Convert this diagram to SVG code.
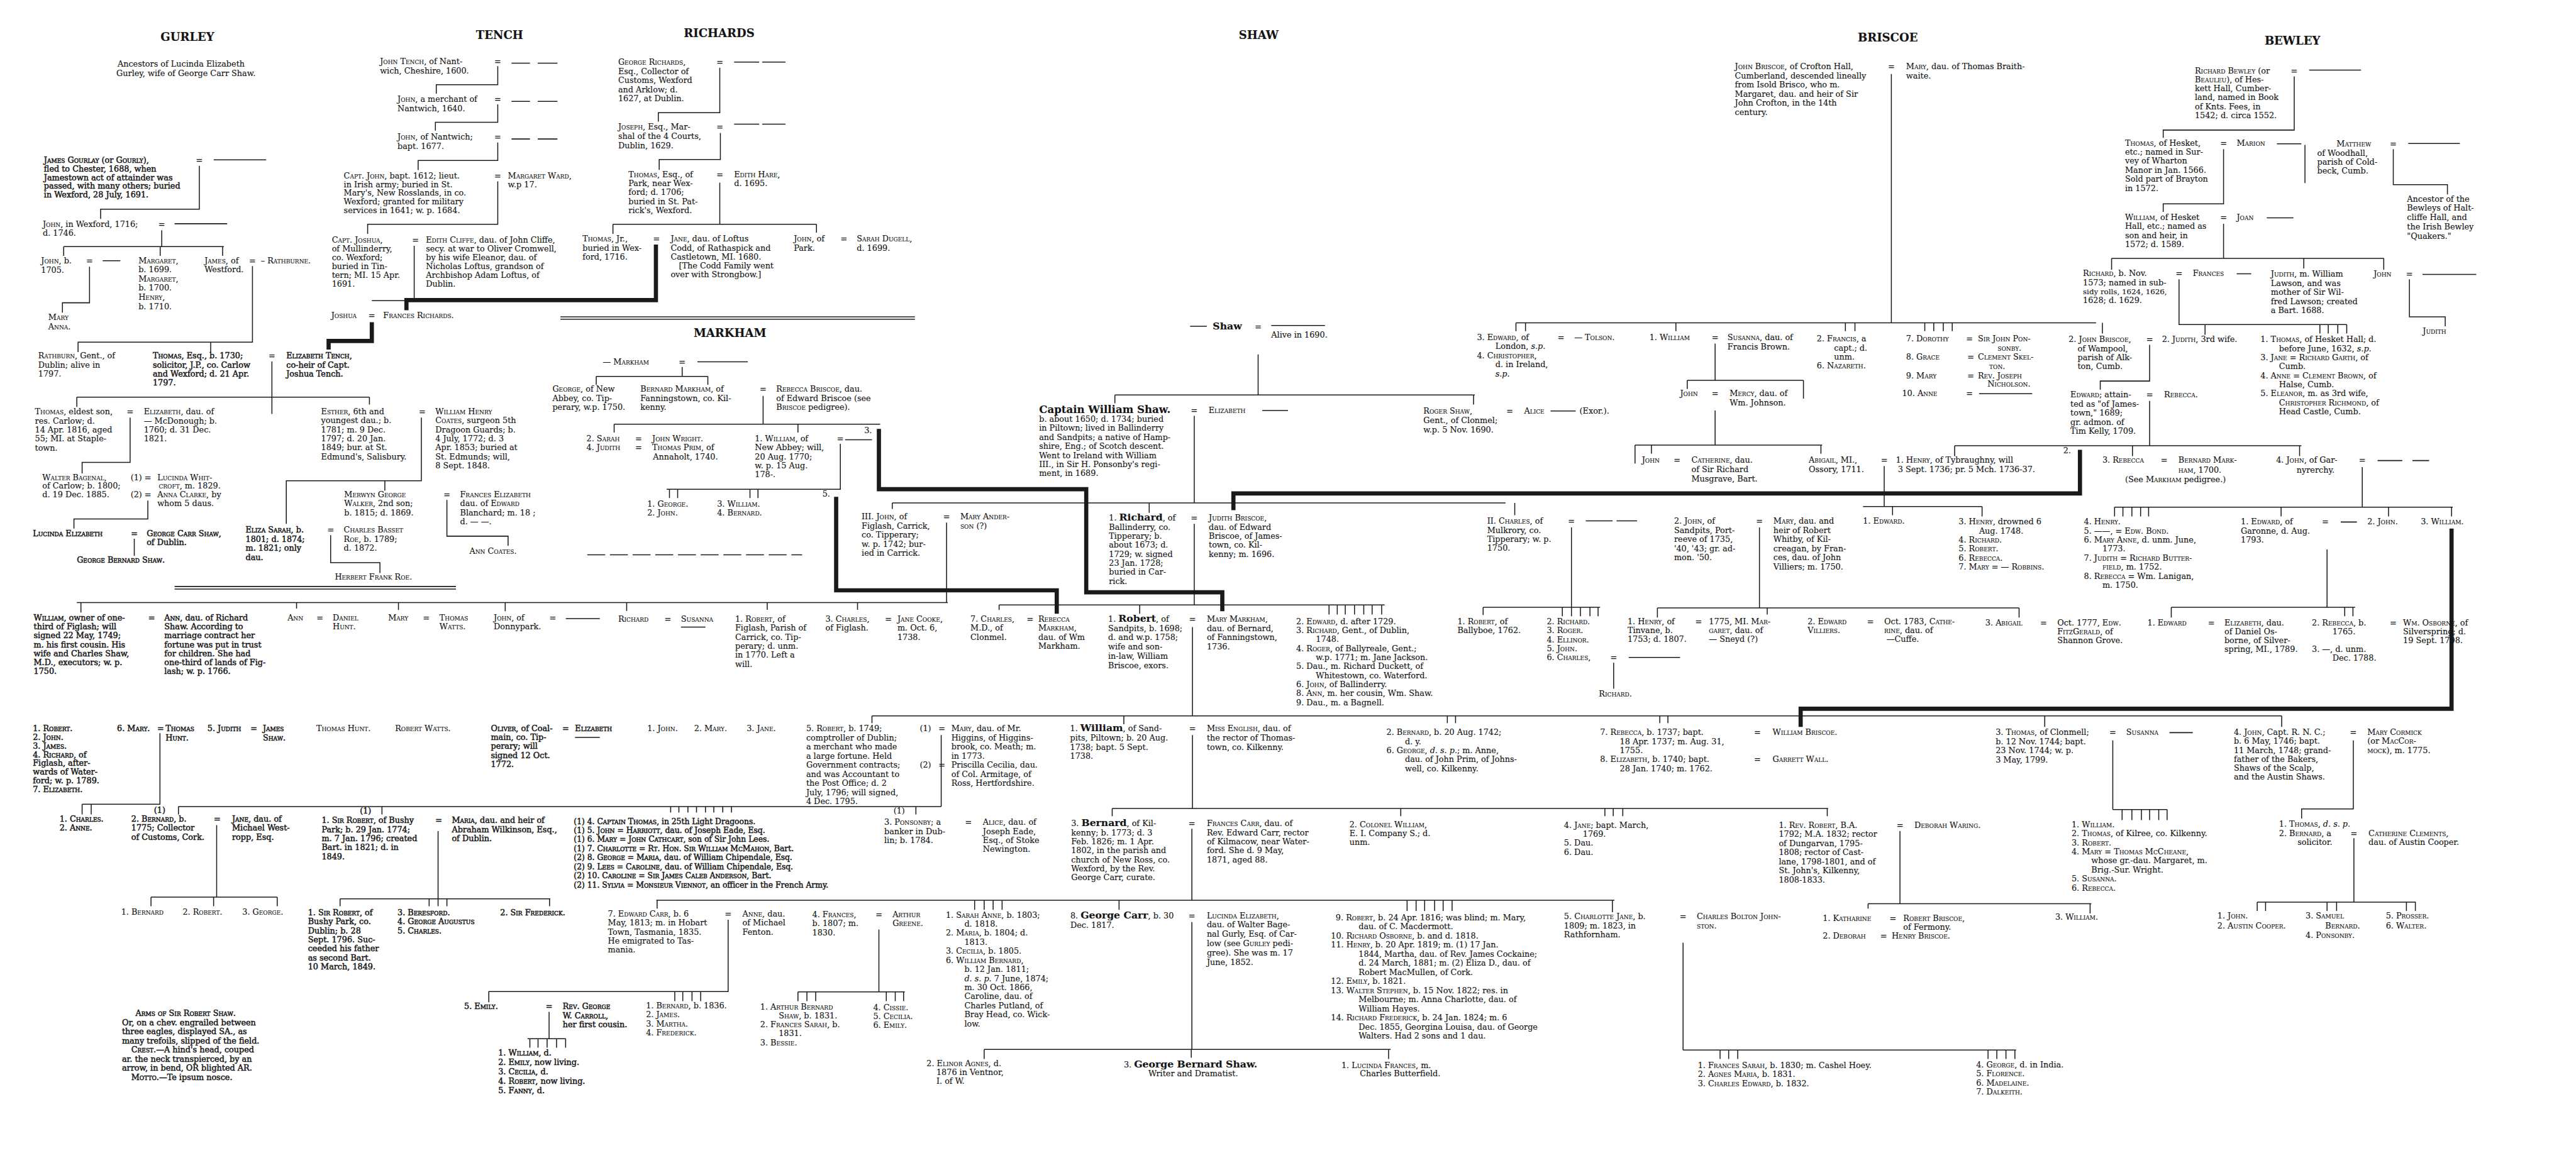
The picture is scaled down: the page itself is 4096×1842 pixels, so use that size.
<svg xmlns="http://www.w3.org/2000/svg" width="4096" height="1842" viewBox="0 0 4096 1842">
<style>
text{font-family:"DejaVu Serif","Liberation Serif",serif;font-size:13.5px;fill:#141414;stroke:#141414;stroke-width:.15}
.s{font-variant:small-caps}
.i{font-style:italic}
.b{stroke-width:.5}
.h{font-size:19px;font-weight:bold;text-anchor:middle}
.bd{font-size:16.5px;font-weight:bold}
.e{text-anchor:middle}
.c path{fill:none;stroke:#1a1a1a;stroke-width:1.6}
.c path.k{stroke-width:7}
</style>
<rect width="4096" height="1842" fill="#fff"/>
<g transform="scale(0.949)">
<g id="connectors" class="c">
<path d="M358 268H446M292.5 375H380.6M172 437H201.6M857 106H888M901 106H934M857 170H888M901 170H934M857 233H888M901 233H934M1230 104H1272M1277 104H1316M1230 208H1272M1277 208H1316M1168.5 606.5H1253M1416 737H1461M1994 547H2022M2130 545.5H2220M2115 688H2158M2598 689H2640M2657 873H2702M2708.6 873H2743M2729 1102H2815M948 1037H1005M1141 1051H1182M963.5 1236H1005M3316 660H3405M3869 117.6H3956M3815 241H3856M4035 240.5H4121.5M3798 365H3842.6M3747.6 459H3772M4059 460H4149M3983.7 772H4025M4042 772H4070M3922 875H3949M3635 1228H3674"/>
<path d="M334 278V350.7H168.6V367"/>
<path d="M271 386V413.4M106.7 413.4H375M106.7 413.4V429M268.4 413.4V429M373 413.4V429"/>
<path d="M150 447V507.5H104.6V524"/>
<path d="M423 446V573.5H130.8V590M353 573.5V590"/>
<path d="M455.6 606V694M128.7 665.6H619M128.7 665.6V682M619 665.6V678"/>
<path d="M218 700V775H137.6V793.5"/>
<path d="M247.7 839V869.8H123.9V886"/>
<path d="M225 903V931.7"/>
<path d="M706 700V805.9H479.7V878M644.8 805.9V822.4"/>
<path d="M748.8 838V898.7H851.3V915"/>
<path d="M554 897V943H636.6V960.6"/>
<path d="M292.5 983H764M292.5 987.4H764"/>
<path d="M834 111V142H731V157"/>
<path d="M834 175V205H729.5V219"/>
<path d="M834 239V269H700.6V285"/>
<path d="M834 304V376H616V392"/>
<path d="M694 412V504H623"/>
<path class="k" d="M1099 410V503H681V520"/>
<path class="k" d="M623 540V571.5H550.6V586"/>
<path d="M1206 113.5V189H1103V204"/>
<path d="M1207 222.8V267.4H1104.5V284.7"/>
<path d="M1206 306V376M1027 376H1368M1027 376V392M1368 376V390"/>
<path d="M939 531H1533M939 535H1533"/>
<path d="M1143 615V631M999 631H1186M999 631V645M1186 631V645"/>
<path d="M1278.6 663.5V711M1029 711H1474.7M1029 711V725M1337 711V725"/>
<path class="k" d="M1472.6 719V820H1820V992.8H2048V1024.5"/>
<path d="M1408 744V820H1117M1121.7 820V834.7M1135.4 820V834.7M1256.6 820V834.7M1270 820V834.7"/>
<path class="k" d="M1401 832.7V989.5H1770.6V1028.6"/>
<path d="M984 930H1344" stroke-dasharray="30 8"/>
<path d="M2108 594V662M1868 662H2471M1868 662V676M2469 662V678"/>
<path d="M2001 697V843M1495 843H2522.7M1495 843V853M1925.5 843V859.5M2538 843V863.6"/>
<path d="M1586 876V1010M128.7 1010H1588M135.6 1010V1026.6M496.9 1010V1020M667.6 1010V1022.5M846.5 1010V1024.5M1050 1010V1024M1285.5 1010V1022M1436.8 1010V1022"/>
<path d="M2001 878V1014M1674 1014H2320M1674 1014V1022.5M1909.6 1014V1028.6M2226.8 1014V1030M2240.6 1014V1030M2254 1014V1030M2269.5 1014V1030M2285 1014V1030M2299 1014V1030M2315 1014V1030"/>
<path d="M2633 884V1018M2485 1018H2681M2485 1018V1030.7M2617.7 1018V1032.8M2633 1018V1032.8M2648 1018V1032.8M2664 1018V1032.8M2677.6 1018V1032.8"/>
<path d="M2703.7 1111V1154.5"/>
<path d="M2873.7 576V637.5M2827 637.5H3021.7M2827 637.5V652M3021.7 637.5V668"/>
<path d="M2873.7 688V746M2739.5 746H3053M2739.5 746V777M2767 746V760.5M3051 746V760.5"/>
<path d="M3157 781V849M3121.5 849H3321M3171 849V863.6M3321 849V865.7"/>
<path d="M2948 884V1019M2777 1019H3383M2777 1019V1035M2961 1019V1030M3383 1019V1035"/>
<path d="M3601.7 672V747M3275 747H3856M3275 747V764.6M3573 747V764.6M3853 747V764.6"/>
<path class="k" d="M3485 754V827H2066.6V855"/>
<path d="M3958 783V850M3543 850H4109.6M3543 850V865.7M3557 850V865.7M3572 850V865.7M3586.6 850V865.7M3600 850V865.7M3822 850V865.7M4002 850V865.7M4107.6 850V865.7"/>
<path d="M3899 921V1018M3638 1018H3946M3638 1018V1035M3928.6 1018V1033M3942.4 1018V1033"/>
<path class="k" d="M4107.6 886V1188H3017V1218.5"/>
<path d="M1998 1051V1200M1461 1200H3823M1461 1200V1212M1883 1200V1214M2425 1200V1212M2438.8 1200V1212M2781 1200V1212M2794.6 1200V1212M3426 1200V1218.5M3823 1200V1218.5"/>
<path d="M1577 1232V1352M299 1352H1577M299 1352V1365M640 1352V1365M1123.7 1352V1362M1137.5 1352V1362M1152.6 1352V1362M1167 1352V1362M1182 1352V1362M1196 1352V1362M1211 1352V1362M1225.6 1352V1362M1534.6 1352V1365"/>
<path d="M268 1229V1348H137.6M137.6 1348V1365M152.8 1348V1365"/>
<path d="M363 1383V1503.6M253 1503.6H464.5M253 1503.6V1519M357.9 1503.6V1519M464.5 1503.6V1519"/>
<path d="M734 1393V1506.5M569.8 1506.5H922M569.8 1506.5V1519M719 1506.5V1519M734 1506.5V1519M748.8 1506.5V1519M920.8 1506.5V1519"/>
<path d="M1998 1232V1355M1863.5 1355H3063M1863.5 1355V1368M2347 1355V1368M2689 1355V1368M2703 1355V1368M2719 1355V1368M3061.6 1355V1368"/>
<path d="M1997 1389V1509M1099.6 1509H2705M1101 1509V1523M1633 1509V1525M1649 1509V1525M1664 1509V1525M1679 1509V1525M1875 1509V1525M2357.6 1509V1527M2372.7 1509V1527M2387 1509V1527M2403.7 1509V1527M2418 1509V1527M2433 1509V1527M2701.6 1509V1529"/>
<path d="M1220 1541.6V1662H819V1680M1130.6 1662V1678M1144 1662V1678M1159.5 1662V1678M1174 1662V1678"/>
<path d="M1472.6 1558V1662.5M1337 1662.5H1516M1337 1662.5V1678M1352 1662.5V1678M1366.7 1662.5V1678M1485 1662.5V1678M1500 1662.5V1678M1514 1662.5V1678"/>
<path d="M920 1696V1741M884 1741H948M887.8 1741V1756M901.5 1741V1756M916.7 1741V1756M932.5 1741V1756M947.7 1741V1756"/>
<path d="M1997 1545.7V1759M1649 1759H2330M1649 1759V1775M1996 1759V1773M2326.6 1759V1775"/>
<path d="M2820 1580V1760M2820 1760H3378M2882 1760V1775M2896.4 1760V1775M2911.6 1760V1775M3331 1760V1775M3345.7 1760V1775M3361 1760V1775M3376 1760V1775"/>
<path d="M3183.4 1393V1514.7M3130 1514.7H3504M3130 1514.7V1523M3502 1514.7V1531"/>
<path d="M3540 1241V1357M3540 1357H3631M3555.6 1357V1374.5M3572 1357V1374.5M3588 1357V1374.5M3601.7 1357V1374.5M3617 1357V1374.5M3631 1357V1374.5"/>
<path d="M3943 1241V1356H3856.4V1372"/>
<path d="M3944 1405V1512M3782 1512H4047.7M3782 1512V1527M3796 1512V1527M3899 1512V1527M3915 1512V1527M4032 1512V1527M4047 1512V1527"/>
<path d="M3169 124V541M2540 541H3512M2540 541V555M2556 541V555M2808 541V555M3092 541V555M3108 541V555M3225 541V555M3240 541V555M3256 541V555M3271 541V555M3522.6 541V559"/>
<path d="M3601.7 578V638.7H3519V653"/>
<path d="M3844 128V218H3624.5V231"/>
<path d="M3725.6 250V341.6H3624.5V355"/>
<path d="M3862 243V307"/>
<path d="M4010 250V309.5H4100.7V326"/>
<path d="M3725.6 375V433M3538 433H3994M3538 433V452M3860 433V450M3994 433V452"/>
<path d="M3651 468V544H3932M3694.6 544V561M3887 544V559M3901 544V559M3917 544V559M3932 544V559"/>
<path d="M4037 468V531H4097V547"/>
</g>

<g id="headings">
<text class="h" x="314" y="69">GURLEY</text>
<text class="h" x="837" y="65">TENCH</text>
<text class="h" x="1205" y="62">RICHARDS</text>
<text class="h" x="2109" y="65">SHAW</text>
<text class="h" x="3163" y="70">BRISCOE</text>
<text class="h" x="3841" y="75">BEWLEY</text>
<text class="h" x="1223" y="565">MARKHAM</text>
</g>

<g id="gurley-note"><text x="197" y="112">Ancestors of Lucinda Elizabeth<tspan x="195" dy="16">Gurley, wife of George Carr Shaw.</tspan></text></g>
<g id="james-gourlay"><text class="b" x="73.6" y="273"><tspan class="s">James Gourlay</tspan> (or <tspan class="s">Gourly</tspan>),<tspan x="73.6" dy="14.5">fled to Chester, 1688, when</tspan><tspan x="73.6" dy="14.5">Jamestown act of attainder was</tspan><tspan x="73.6" dy="14.5">passed, with many others; buried</tspan><tspan x="73.6" dy="14.5">in Wexford, 28 July, 1691.</tspan></text><text class="e" x="334" y="273">=</text></g>
<g id="john-wexford"><text x="71.6" y="380.5"><tspan class="s">John</tspan>, in Wexford, 1716;<tspan x="71.6" dy="14.5">d. 1746.</tspan></text><text class="e" x="271" y="380.5">=</text></g>
<g id="john-1705"><text x="68.8" y="442"><tspan class="s">John</tspan>, b.<tspan x="68.8" dy="15.5">1705.</tspan></text><text class="e" x="150" y="442">=</text></g>
<g id="mary-anna"><text class="s" x="81" y="536">Mary<tspan x="81" dy="16">Anna.</tspan></text></g>
<g id="margaret"><text x="232" y="441"><tspan class="s">Margaret</tspan>,<tspan x="232" dy="15.4">b. 1699.</tspan><tspan x="232" dy="15.4" class="s">Margaret,</tspan><tspan x="232" dy="15.4">b. 1700.</tspan><tspan x="232" dy="15.4" class="s">Henry,</tspan><tspan x="232" dy="15.4">b. 1710.</tspan></text></g>
<g id="james-westford"><text x="342.7" y="441"><tspan class="s">James</tspan>, of<tspan x="342.7" dy="15.5">Westford.</tspan></text><text class="e" x="423" y="441">=</text><text x="437" y="441">– <tspan class="s">Rathburne.</tspan></text></g>
<g id="rathburn"><text x="64" y="601"><tspan class="s">Rathburn</tspan>, Gent., of<tspan x="64" dy="15">Dublin; alive in</tspan><tspan x="64" dy="15">1797.</tspan></text></g>
<g id="thomas-1730"><text class="b" x="256" y="601"><tspan class="s">Thomas</tspan>, Esq., b. 1730;<tspan x="256" dy="15">solicitor, J.P., co. Carlow</tspan><tspan x="256" dy="15">and Wexford; d. 21 Apr.</tspan><tspan x="256" dy="15">1797.</tspan></text><text class="e" x="455.6" y="601">=</text></g>
<g id="elizabeth-tench"><text class="b" x="479.7" y="601"><tspan class="s">Elizabeth Tench</tspan>,<tspan x="479.7" dy="15">co-heir of Capt.</tspan><tspan x="479.7" dy="15">Joshua Tench.</tspan></text></g>

<g id="john-tench"><text x="636.6" y="108"><tspan class="s">John Tench</tspan>, of Nant-<tspan x="636.6" dy="15.5">wich, Cheshire, 1600.</tspan></text><text class="e" x="834" y="108">=</text></g>
<g id="john-merchant"><text x="666" y="171"><tspan class="s">John</tspan>, a merchant of<tspan x="666" dy="15.5">Nantwich, 1640.</tspan></text><text class="e" x="834" y="171">=</text></g>
<g id="john-nantwich"><text x="666" y="234"><tspan class="s">John</tspan>, of Nantwich;<tspan x="666" dy="15.5">bapt. 1677.</tspan></text><text class="e" x="834" y="234">=</text></g>
<g id="capt-john"><text x="576" y="299"><tspan class="s">Capt. John</tspan>, bapt. 1612; lieut.<tspan x="576" dy="14.6">in Irish army; buried in St.</tspan><tspan x="576" dy="14.6">Mary's, New Rosslands, in co.</tspan><tspan x="576" dy="14.6">Wexford; granted for military</tspan><tspan x="576" dy="14.6">services in 1641; w. p. 1684.</tspan></text><text class="e" x="834" y="299">=</text><text x="851" y="299"><tspan class="s">Margaret Ward</tspan>,<tspan x="851" dy="14.6">w.p 17.</tspan></text></g>
<g id="capt-joshua"><text x="556" y="407"><tspan class="s">Capt. Joshua</tspan>,<tspan x="556" dy="14.8">of Mullinderry,</tspan><tspan x="556" dy="14.8">co. Wexford;</tspan><tspan x="556" dy="14.8">buried in Tin-</tspan><tspan x="556" dy="14.8">tern; MI. 15 Apr.</tspan><tspan x="556" dy="14.8">1691.</tspan></text><text class="e" x="696" y="407">=</text></g>
<g id="edith-cliffe"><text x="713.6" y="407"><tspan class="s">Edith Cliffe</tspan>, dau. of John Cliffe,<tspan x="713.6" dy="14.8">secy. at war to Oliver Cromwell,</tspan><tspan x="713.6" dy="14.8">by his wife Eleanor, dau. of</tspan><tspan x="713.6" dy="14.8">Nicholas Loftus, grandson of</tspan><tspan x="713.6" dy="14.8">Archbishop Adam Loftus, of</tspan><tspan x="713.6" dy="14.8">Dublin.</tspan></text></g>
<g id="joshua"><text class="s" x="555" y="533">Joshua</text><text class="e" x="623" y="533">=</text><text class="s" x="642" y="533">Frances Richards.</text></g>

<g id="george-richards"><text x="1035.7" y="109"><tspan class="s">George Richards</tspan>,<tspan x="1035.7" dy="15.2">Esq., Collector of</tspan><tspan x="1035.7" dy="15.2">Customs, Wexford</tspan><tspan x="1035.7" dy="15.2">and Arklow; d.</tspan><tspan x="1035.7" dy="15.2">1627, at Dublin.</tspan></text><text class="e" x="1206" y="109">=</text></g>
<g id="joseph"><text x="1035.7" y="217.5"><tspan class="s">Joseph</tspan>, Esq., Mar-<tspan x="1035.7" dy="15.4">shal of the 4 Courts,</tspan><tspan x="1035.7" dy="15.4">Dublin, 1629.</tspan></text><text class="e" x="1206" y="217.5">=</text></g>
<g id="thomas-park"><text x="1053" y="297"><tspan class="s">Thomas</tspan>, Esq., of<tspan x="1053" dy="15">Park, near Wex-</tspan><tspan x="1053" dy="15">ford; d. 1706;</tspan><tspan x="1053" dy="15">buried in St. Pat-</tspan><tspan x="1053" dy="15">rick's, Wexford.</tspan></text><text class="e" x="1206" y="297">=</text><text x="1230" y="297"><tspan class="s">Edith Hare</tspan>,<tspan x="1230" dy="15">d. 1695.</tspan></text></g>
<g id="thomas-jr"><text x="976" y="405"><tspan class="s">Thomas</tspan>, Jr.,<tspan x="976" dy="15">buried in Wex-</tspan><tspan x="976" dy="15">ford, 1716.</tspan></text><text class="e" x="1100" y="405">=</text></g>
<g id="jane-codd"><text x="1123.7" y="405"><tspan class="s">Jane</tspan>, dau. of Loftus<tspan x="1123.7" dy="15">Codd, of Rathaspick and</tspan><tspan x="1123.7" dy="15">Castletown, MI. 1680.</tspan><tspan x="1137.5" dy="15">[The Codd Family went</tspan><tspan x="1123.7" dy="15">over with Strongbow.]</tspan></text></g>
<g id="john-park"><text x="1330" y="405"><tspan class="s">John</tspan>, of<tspan x="1330" dy="15">Park.</tspan></text><text class="e" x="1414" y="405">=</text><text x="1435.5" y="405"><tspan class="s">Sarah Dugell</tspan>,<tspan x="1435.5" dy="15">d. 1699.</tspan></text></g>

<g id="markham"><text x="1010" y="611">— <tspan class="s">Markham</tspan></text><text class="e" x="1143" y="611">=</text></g>
<g id="george-new-abbey"><text x="925.6" y="657"><tspan class="s">George</tspan>, of New<tspan x="925.6" dy="15">Abbey, co. Tip-</tspan><tspan x="925.6" dy="15">perary, w.p. 1750.</tspan></text></g>
<g id="bernard-markham"><text x="1073" y="657"><tspan class="s">Bernard Markham</tspan>, of<tspan x="1073" dy="15">Fanningstown, co. Kil-</tspan><tspan x="1073" dy="15">kenny.</tspan></text><text class="e" x="1278.6" y="657">=</text><text x="1300.6" y="657"><tspan class="s">Rebecca Briscoe</tspan>, dau.<tspan x="1300.6" dy="15">of Edward Briscoe (see</tspan><tspan x="1300.6" dy="15"><tspan class="s">Briscoe</tspan> pedigree).</tspan></text></g>
<g id="sarah-judith"><text x="982.7" y="740">2. <tspan class="s">Sarah</tspan><tspan x="982.7" dy="15">4. </tspan><tspan class="s">Judith</tspan></text><text class="e" x="1070" y="740">=<tspan x="1070" dy="15">=</tspan></text><text x="1092.8" y="740"><tspan class="s">John Wright.</tspan><tspan x="1092.8" dy="15" class="s">Thomas Prim</tspan>, of<tspan x="1094" dy="15">Annaholt, 1740.</tspan></text></g>
<g id="william-new-abbey"><text x="1264.8" y="740">1. <tspan class="s">William</tspan>, of<tspan x="1264.8" dy="15">New Abbey; will,</tspan><tspan x="1264.8" dy="15">20 Aug. 1770;</tspan><tspan x="1264.8" dy="15">w. p. 15 Aug.</tspan><tspan x="1264.8" dy="15">178-.</tspan></text><text class="e" x="1408" y="740">=</text><text x="1448" y="726">3.</text><text x="1378" y="832">5.</text></g>
<g id="markham-sons"><text x="1084.5" y="849">1. <tspan class="s">George.</tspan><tspan x="1084.5" dy="15.5">2. </tspan><tspan class="s">John.</tspan></text><text x="1201.5" y="849">3. <tspan class="s">William.</tspan><tspan x="1201.5" dy="15.5">4. </tspan><tspan class="s">Bernard.</tspan></text></g>

<g id="gurley-thomas"><text x="58.5" y="694.5"><tspan class="s">Thomas</tspan>, eldest son,<tspan x="58.5" dy="15.2">res. Carlow; d.</tspan><tspan x="58.5" dy="15.2">14 Apr. 1816, aged</tspan><tspan x="58.5" dy="15.2">55; MI. at Staple-</tspan><tspan x="58.5" dy="15.2">town.</tspan></text><text class="e" x="218" y="694.5">=</text><text x="241" y="694.5"><tspan class="s">Elizabeth</tspan>, dau. of<tspan x="241" dy="15.2">— McDonough; b.</tspan><tspan x="241" dy="15.2">1760; d. 31 Dec.</tspan><tspan x="241" dy="15.2">1821.</tspan></text></g>
<g id="walter-bagenal"><text x="70.9" y="804.7"><tspan class="s">Walter Bagenal</tspan>,<tspan x="70.9" dy="14.5">of Carlow; b. 1800;</tspan><tspan x="70.9" dy="14.5">d. 19 Dec. 1885.</tspan></text><text x="218.8" y="804.7">(1) =<tspan x="218.8" dy="28.8">(2) =</tspan></text><text x="263.6" y="804.7"><tspan class="s">Lucinda Whit-</tspan><tspan x="266" dy="14.4" class="s">croft</tspan>, m. 1829.<tspan x="263.6" dy="14.4" class="s">Anna Clarke</tspan>, by<tspan x="263.6" dy="14.5">whom 5 daus.</tspan></text></g>
<g id="lucinda-elizabeth"><text class="b s" x="55" y="898.7">Lucinda Elizabeth</text><text class="e b" x="225" y="898.7">=</text><text class="b" x="245.7" y="898.7"><tspan class="s">George Carr Shaw</tspan>,<tspan x="245.7" dy="15.3">of Dublin.</tspan></text><text class="b s" x="128.7" y="943">George Bernard Shaw.</text></g>
<g id="esther"><text x="538" y="694.5"><tspan class="s">Esther</tspan>, 6th and<tspan x="538" dy="15.1">youngest dau.; b.</tspan><tspan x="538" dy="15.1">1781; m. 9 Dec.</tspan><tspan x="538" dy="15.1">1797; d. 20 Jan.</tspan><tspan x="538" dy="15.1">1849; bur. at St.</tspan><tspan x="538" dy="15.1">Edmund's, Salisbury.</tspan></text><text class="e" x="707.5" y="694.5">=</text></g>
<g id="william-coates"><text x="729.5" y="694.5"><tspan class="s">William Henry</tspan><tspan x="729.5" dy="15.1" class="s">Coates</tspan>, surgeon 5th<tspan x="729.5" dy="15.1">Dragoon Guards; b.</tspan><tspan x="729.5" dy="15.1">4 July, 1772; d. 3</tspan><tspan x="729.5" dy="15.1">Apr. 1853; buried at</tspan><tspan x="729.5" dy="15.1">St. Edmunds; will,</tspan><tspan x="729.5" dy="15.1">8 Sept. 1848.</tspan></text></g>
<g id="merwyn"><text x="576.7" y="833.5"><tspan class="s">Merwyn George</tspan><tspan x="576.7" dy="15.2" class="s">Walker</tspan>, 2nd son;<tspan x="576.7" dy="15.2">b. 1815; d. 1869.</tspan></text><text class="e" x="748.8" y="833.5">=</text><text x="770.8" y="833.5"><tspan class="s">Frances Elizabeth</tspan><tspan x="770.8" dy="15.2">dau. of </tspan><tspan class="s">Edward</tspan><tspan x="770.8" dy="15.2">Blanchard; m. 18 ;</tspan><tspan x="770.8" dy="15.2">d. — —.</tspan></text><text class="s" x="786.6" y="928">Ann Coates.</text></g>
<g id="eliza-sarah"><text class="b" x="411.5" y="893"><tspan class="s">Eliza Sarah</tspan>, b.<tspan x="411.5" dy="15.3">1801; d. 1874;</tspan><tspan x="411.5" dy="15.3">m. 1821; only</tspan><tspan x="411.5" dy="15.3">dau.</tspan></text><text class="e" x="554" y="893">=</text><text x="576" y="893"><tspan class="s">Charles Basset</tspan><tspan x="576" dy="15.3" class="s">Roe</tspan>, b. 1789;<tspan x="576" dy="15.3">d. 1872.</tspan></text><text class="s" x="561" y="972">Herbert Frank Roe.</text></g>

<g id="shaw-root"><text x="2032" y="552" class="bd">Shaw</text><text class="e" x="2108" y="552">=</text><text x="2130" y="566">Alive in 1690.</text></g>
<g id="capt-william-shaw"><text x="1741" y="692" class="bd" style="font-size:17.5px">Captain William Shaw.</text><text x="1741" y="707">b. about 1650; d. 1734; buried<tspan x="1741" dy="15.2">in Piltown; lived in Ballinderry</tspan><tspan x="1741" dy="15.2">and Sandpits; a native of Hamp-</tspan><tspan x="1741" dy="15.2">shire, Eng.; of Scotch descent.</tspan><tspan x="1741" dy="15.2">Went to Ireland with William</tspan><tspan x="1741" dy="15.2">III., in Sir H. Ponsonby's regi-</tspan><tspan x="1741" dy="15.2">ment, in 1689.</tspan></text><text class="e" x="2001" y="692">=</text><text class="s" x="2025" y="692">Elizabeth</text></g>
<g id="roger-shaw"><text x="2385" y="693"><tspan class="s">Roger Shaw</tspan>,<tspan x="2385" dy="16">Gent., of Clonmel;</tspan><tspan x="2385" dy="16">w.p. 5 Nov. 1690.</tspan></text><text class="e" x="2529.6" y="693">=</text><text x="2553.7" y="693" class="s">Alice</text><text x="2646.6" y="693">(Exor.).</text></g>
<g id="john-figlash"><text x="1443.7" y="870.7">III. <tspan class="s">John</tspan>, of<tspan x="1443.7" dy="15.2">Figlash, Carrick,</tspan><tspan x="1443.7" dy="15.2">co. Tipperary;</tspan><tspan x="1443.7" dy="15.2">w. p. 1742; bur-</tspan><tspan x="1443.7" dy="15.2">ied in Carrick.</tspan></text><text class="e" x="1586" y="870.7">=</text><text x="1609" y="870.7"><tspan class="s">Mary Ander-</tspan><tspan x="1609" dy="15.2" class="s">son</tspan> (?)</text></g>
<g id="richard-ballinderry"><text x="1858" y="873">1. <tspan class="bd">Richard</tspan>, of<tspan x="1858" dy="15.1">Ballinderry, co.</tspan><tspan x="1858" dy="15.1">Tipperary; b.</tspan><tspan x="1858" dy="15.1">about 1673; d.</tspan><tspan x="1858" dy="15.1">1729; w. signed</tspan><tspan x="1858" dy="15.1">23 Jan. 1728;</tspan><tspan x="1858" dy="15.1">buried in Car-</tspan><tspan x="1858" dy="15.1">rick.</tspan></text><text class="e" x="2001" y="873">=</text><text x="2025.3" y="873"><tspan class="s">Judith Briscoe</tspan>,<tspan x="2025.3" dy="15.1">dau. of Edward</tspan><tspan x="2025.3" dy="15.1">Briscoe, of James-</tspan><tspan x="2025.3" dy="15.1">town, co. Kil-</tspan><tspan x="2025.3" dy="15.1">kenny; m. 1696.</tspan></text></g>
<g id="charles-mulkrory"><text x="2491.8" y="878">II. <tspan class="s">Charles</tspan>, of<tspan x="2491.8" dy="15.1">Mulkrory, co.</tspan><tspan x="2491.8" dy="15.1">Tipperary; w. p.</tspan><tspan x="2491.8" dy="15.1">1750.</tspan></text><text class="e" x="2633" y="878">=</text></g>
<g id="john-mercy"><text x="2815" y="664" class="s">John</text><text class="e" x="2873.7" y="664">=</text><text x="2898" y="664"><tspan class="s">Mercy</tspan>, dau. of<tspan x="2898" dy="16">Wm. Johnson.</tspan></text></g>
<g id="john-catherine"><text x="2751" y="776" class="s">John</text><text class="e" x="2810" y="776">=</text><text x="2834" y="776"><tspan class="s">Catherine</tspan>, dau.<tspan x="2834" dy="15.5">of Sir Richard</tspan><tspan x="2834" dy="15.5">Musgrave, Bart.</tspan></text></g>
<g id="abigail-henry"><text x="3030.6" y="776"><tspan class="s">Abigail</tspan>, MI.,<tspan x="3030.6" dy="15.5">Ossory, 1711.</tspan></text><text class="e" x="3157" y="776">=</text><text x="3176.5" y="776">1. <tspan class="s">Henry</tspan>, of Tybraughny, will<tspan x="3180" dy="15.5">3 Sept. 1736; pr. 5 Mch. 1736-37.</tspan></text></g>
<g id="john-sandpits"><text x="2805" y="878">2. <tspan class="s">John</tspan>, of<tspan x="2805" dy="15.3">Sandpits, Port-</tspan><tspan x="2805" dy="15.3">reeve of 1735,</tspan><tspan x="2805" dy="15.3">'40, '43; gr. ad-</tspan><tspan x="2805" dy="15.3">mon. '50.</tspan></text><text class="e" x="2948" y="878">=</text><text x="2971.4" y="878"><tspan class="s">Mary</tspan>, dau. and<tspan x="2971.4" dy="15.3">heir of Robert</tspan><tspan x="2971.4" dy="15.3">Whitby, of Kil-</tspan><tspan x="2971.4" dy="15.3">creagan, by Fran-</tspan><tspan x="2971.4" dy="15.3">ces, dau. of John</tspan><tspan x="2971.4" dy="15.3">Villiers; m. 1750.</tspan></text></g>
<g id="edward-1"><text x="3121.5" y="878">1. <tspan class="s">Edward.</tspan></text></g>
<g id="henry-drowned"><text x="3281.7" y="879">3. <tspan class="s">Henry</tspan>, drowned 6<tspan x="3316" dy="15.2">Aug. 1748.</tspan><tspan x="3281.7" dy="15.2">4. </tspan><tspan class="s">Richard.</tspan><tspan x="3281.7" dy="15.2">5. </tspan><tspan class="s">Robert.</tspan><tspan x="3281.7" dy="15.2">6. </tspan><tspan class="s">Rebecca.</tspan><tspan x="3281.7" dy="15.2">7. </tspan><tspan class="s">Mary</tspan> = — <tspan class="s">Robbins.</tspan></text></g>
<g id="henry-4"><text x="3491.6" y="879">4. <tspan class="s">Henry.</tspan><tspan x="3491.6" dy="15.2">5. ——, = </tspan><tspan class="s">Edw. Bond.</tspan><tspan x="3491.6" dy="15.2">6. </tspan><tspan class="s">Mary Anne</tspan>, d. unm. June,<tspan x="3522.6" dy="15.2">1773.</tspan><tspan x="3491.6" dy="15.2">7. </tspan><tspan class="s">Judith</tspan> = <tspan class="s">Richard Butter-</tspan><tspan x="3522.6" dy="15.2" class="s">field</tspan>, m. 1752.<tspan x="3491.6" dy="15.2">8. </tspan><tspan class="s">Rebecca</tspan> = Wm. Lanigan,<tspan x="3522.6" dy="15.2">m. 1750.</tspan></text></g>
<g id="edward-garonne"><text x="3754.5" y="879">1. <tspan class="s">Edward</tspan>, of<tspan x="3754.5" dy="15.2">Garonne, d. Aug.</tspan><tspan x="3754.5" dy="15.2">1793.</tspan></text><text class="e" x="3896" y="879">=</text><text x="3966.5" y="879">2. <tspan class="s">John.</tspan></text><text x="4056" y="879">3. <tspan class="s">William.</tspan></text></g>

<g id="edward-list"><text x="2171.8" y="1046">2. <tspan class="s">Edward</tspan>, d. after 1729.<tspan x="2171.8" dy="15.1">3. </tspan><tspan class="s">Richard</tspan>, Gent., of Dublin,<tspan x="2204.8" dy="15.1">1748.</tspan><tspan x="2171.8" dy="15.1">4. </tspan><tspan class="s">Roger</tspan>, of Ballyreale, Gent.;<tspan x="2204.8" dy="15.1">w.p. 1771; m. Jane Jackson.</tspan><tspan x="2171.8" dy="15.1">5. Dau., m. Richard Duckett, of</tspan><tspan x="2204.8" dy="15.1">Whitestown, co. Waterford.</tspan><tspan x="2171.8" dy="15.1">6. </tspan><tspan class="s">John</tspan>, of Ballinderry.<tspan x="2171.8" dy="15.1">8. </tspan><tspan class="s">Ann</tspan>, m. her cousin, Wm. Shaw.<tspan x="2171.8" dy="15.1">9. Dau., m. a Bagnell.</tspan></text></g>
<g id="robert-ballyboe"><text x="2442" y="1046">1. <tspan class="s">Robert</tspan>, of<tspan x="2442" dy="15.2">Ballyboe, 1762.</tspan></text></g>
<g id="richard-list"><text x="2591.6" y="1046">2. <tspan class="s">Richard.</tspan><tspan x="2591.6" dy="15.2">3. </tspan><tspan class="s">Roger.</tspan><tspan x="2591.6" dy="15.2">4. </tspan><tspan class="s">Ellinor.</tspan><tspan x="2591.6" dy="15.2">5. </tspan><tspan class="s">John.</tspan><tspan x="2591.6" dy="15.2">6. </tspan><tspan class="s">Charles</tspan>,</text><text class="e" x="2703.7" y="1106.8">=</text><text class="s" x="2679" y="1168">Richard.</text></g>
<g id="henry-tinvane"><text x="2727" y="1046">1. <tspan class="s">Henry</tspan>, of<tspan x="2727" dy="15">Tinvane, b.</tspan><tspan x="2727" dy="15">1753; d. 1807.</tspan></text><text class="e" x="2846" y="1046">=</text><text x="2863.4" y="1046">1775, MI. <tspan class="s">Mar-</tspan><tspan x="2863.4" dy="15" class="s">garet</tspan>, dau. of<tspan x="2863.4" dy="15">— Sneyd (?)</tspan></text></g>
<g id="edward-villiers"><text x="3028.6" y="1046">2. <tspan class="s">Edward</tspan><tspan x="3028.6" dy="15" class="s">Villiers.</tspan></text><text class="e" x="3134" y="1046">=</text><text x="3157" y="1046">Oct. 1783, <tspan class="s">Cathe-</tspan><tspan x="3157" dy="15" class="s">rine</tspan>, dau. of<tspan x="3161" dy="15">—Cuffe.</tspan></text></g>
<g id="abigail-3"><text x="3326.5" y="1048">3. <tspan class="s">Abigail</tspan></text><text class="e" x="3424" y="1048">=</text><text x="3447" y="1048">Oct. 1777, <tspan class="s">Edw.</tspan><tspan x="3447" dy="15" class="s">FitzGerald</tspan>, of<tspan x="3447" dy="15">Shannon Grove.</tspan></text></g>
<g id="edward-osborne"><text x="3598" y="1048">1. <tspan class="s">Edward</tspan></text><text class="e" x="3705" y="1048">=</text><text x="3727" y="1048"><tspan class="s">Elizabeth</tspan>, dau.<tspan x="3727" dy="15">of Daniel Os-</tspan><tspan x="3727" dy="15">borne, of Silver-</tspan><tspan x="3727" dy="15">spring, MI., 1789.</tspan></text></g>
<g id="rebecca-2"><text x="3873.6" y="1048">2. <tspan class="s">Rebecca</tspan>, b.<tspan x="3908" dy="15">1765.</tspan><tspan x="3873.6" dy="30">3. —, d. unm.</tspan><tspan x="3908" dy="15">Dec. 1788.</tspan></text><text class="e" x="4010" y="1048">=</text><text x="4026.4" y="1048"><tspan class="s">Wm. Osborne</tspan>, of<tspan x="4026.4" dy="15">Silverspring; d.</tspan><tspan x="4026.4" dy="15">19 Sept. 1798.</tspan></text></g>

<g id="william-figlash"><text class="b" x="56.4" y="1040"><tspan class="s">William</tspan>, owner of one-<tspan x="56.4" dy="15">third of Figlash; will</tspan><tspan x="56.4" dy="15">signed 22 May, 1749;</tspan><tspan x="56.4" dy="15">m. his first cousin. His</tspan><tspan x="56.4" dy="15">wife and Charles Shaw,</tspan><tspan x="56.4" dy="15">M.D., executors; w. p.</tspan><tspan x="56.4" dy="15">1750.</tspan></text><text class="e b" x="254" y="1040">=</text><text class="b" x="275.3" y="1040"><tspan class="s">Ann</tspan>, dau. of Richard<tspan x="275.3" dy="15">Shaw. According to</tspan><tspan x="275.3" dy="15">marriage contract her</tspan><tspan x="275.3" dy="15">fortune was put in trust</tspan><tspan x="275.3" dy="15">for children. She had</tspan><tspan x="275.3" dy="15">one-third of lands of Fig-</tspan><tspan x="275.3" dy="15">lash; w. p. 1766.</tspan></text></g>
<g id="ann-hunt"><text class="s" x="481.7" y="1040">Ann</text><text class="e" x="536" y="1040">=</text><text class="s" x="557.4" y="1040">Daniel<tspan x="557.4" dy="15">Hunt.</tspan></text></g>
<g id="mary-watts"><text class="s" x="650.3" y="1040">Mary</text><text class="e" x="714.3" y="1040">=</text><text class="s" x="736.4" y="1040">Thomas<tspan x="736.4" dy="15">Watts.</tspan></text></g>
<g id="john-donnypark"><text x="827.2" y="1040"><tspan class="s">John</tspan>, of<tspan x="827.2" dy="15">Donnypark.</tspan></text><text class="e" x="926" y="1040">=</text></g>
<g id="richard-susanna"><text class="s" x="1035.7" y="1042">Richard</text><text class="e" x="1119" y="1042">=</text><text class="s" x="1141" y="1042">Susanna</text></g>
<g id="robert-figlash"><text x="1231.8" y="1042">1. <tspan class="s">Robert</tspan>, of<tspan x="1231.8" dy="15.1">Figlash, Parish of</tspan><tspan x="1231.8" dy="15.1">Carrick, co. Tip-</tspan><tspan x="1231.8" dy="15.1">perary; d. unm.</tspan><tspan x="1231.8" dy="15.1">in 1770. Left a</tspan><tspan x="1231.8" dy="15.1">will.</tspan></text></g>
<g id="charles-figlash"><text x="1383" y="1042">3. <tspan class="s">Charles</tspan>,<tspan x="1383" dy="15.1">of Figlash.</tspan></text><text class="e" x="1488.5" y="1042">=</text><text x="1503.6" y="1042"><tspan class="s">Jane Cooke</tspan>,<tspan x="1503.6" dy="15.1">m. Oct. 6,</tspan><tspan x="1503.6" dy="15.1">1738.</tspan></text></g>
<g id="charles-clonmel"><text x="1626" y="1042">7. <tspan class="s">Charles</tspan>,<tspan x="1626" dy="15.1">M.D., of</tspan><tspan x="1626" dy="15.1">Clonmel.</tspan></text><text class="e" x="1726" y="1042">=</text><text x="1739.7" y="1042"><tspan class="s">Rebecca</tspan><tspan x="1739.7" dy="15.1" class="s">Markham</tspan>,<tspan x="1739.7" dy="15.1">dau. of Wm</tspan><tspan x="1739.7" dy="15.1">Markham.</tspan></text></g>
<g id="robert-sandpits"><text x="1856.7" y="1042">1. <tspan class="bd">Robert</tspan>, of<tspan x="1856.7" dy="15.6">Sandpits, b. 1698;</tspan><tspan x="1856.7" dy="15.6">d. and w.p. 1758;</tspan><tspan x="1856.7" dy="15.6">wife and son-</tspan><tspan x="1856.7" dy="15.6">in-law, William</tspan><tspan x="1856.7" dy="15.6">Briscoe, exors.</tspan></text><text class="e" x="1998" y="1042">=</text><text x="2022" y="1042"><tspan class="s">Mary Markham</tspan>,<tspan x="2022" dy="15.6">dau. of Bernard,</tspan><tspan x="2022" dy="15.6">of Fanningstown,</tspan><tspan x="2022" dy="15.6">1736.</tspan></text></g>

<g id="robert-list"><text class="b" x="55" y="1225.5">1. <tspan class="s">Robert.</tspan><tspan x="55" dy="14.6">2. </tspan><tspan class="s">John.</tspan><tspan x="55" dy="14.6">3. </tspan><tspan class="s">James.</tspan><tspan x="55" dy="14.6">4. </tspan><tspan class="s">Richard</tspan>, of<tspan x="55" dy="14.6">Figlash, after-</tspan><tspan x="55" dy="14.6">wards of Water-</tspan><tspan x="55" dy="14.6">ford; w. p. 1789.</tspan><tspan x="55" dy="14.6">7. </tspan><tspan class="s">Elizabeth.</tspan></text></g>
<g id="mary-hunt"><text class="b" x="196" y="1225.5">6. <tspan class="s">Mary.</tspan></text><text class="e b" x="269" y="1225.5">=</text><text class="b s" x="277.3" y="1225.5">Thomas<tspan x="277.3" dy="15.5">Hunt.</tspan></text></g>
<g id="judith-shaw"><text class="b" x="347.5" y="1225.5">5. <tspan class="s">Judith</tspan></text><text class="e b" x="425.3" y="1225.5">=</text><text class="b s" x="440.4" y="1225.5">James<tspan x="440.4" dy="15.5">Shaw.</tspan></text></g>
<g id="thomas-hunt"><text class="s" x="530" y="1225">Thomas Hunt.</text></g>
<g id="robert-watts"><text class="s" x="662" y="1225">Robert Watts.</text></g>
<g id="oliver"><text class="b" x="822.4" y="1225"><tspan class="s">Oliver</tspan>, of Coal-<tspan x="822.4" dy="15.2">main, co. Tip-</tspan><tspan x="822.4" dy="15.2">perary; will</tspan><tspan x="822.4" dy="15.2">signed 12 Oct.</tspan><tspan x="822.4" dy="15.2">1772.</tspan></text><text class="e b" x="947.7" y="1225">=</text><text class="b s" x="963.5" y="1225">Elizabeth</text></g>
<g id="john-mary-jane"><text x="1084.5" y="1226">1. <tspan class="s">John.</tspan></text><text x="1163" y="1226">2. <tspan class="s">Mary.</tspan></text><text x="1251" y="1226">3. <tspan class="s">Jane.</tspan></text></g>
<g id="robert-1749"><text x="1350.8" y="1226">5. <tspan class="s">Robert</tspan>, b. 1749;<tspan x="1350.8" dy="15.25">comptroller of Dublin;</tspan><tspan x="1350.8" dy="15.25">a merchant who made</tspan><tspan x="1350.8" dy="15.25">a large fortune. Held</tspan><tspan x="1350.8" dy="15.25">Government contracts;</tspan><tspan x="1350.8" dy="15.25">and was Accountant to</tspan><tspan x="1350.8" dy="15.25">the Post Office; d. 2</tspan><tspan x="1350.8" dy="15.25">July, 1796; will signed,</tspan><tspan x="1350.8" dy="15.25">4 Dec. 1795.</tspan></text><text x="1541" y="1226">(1)<tspan x="1541" dy="61">(2)</tspan></text><text class="e" x="1578" y="1226">=<tspan x="1578" dy="61">=</tspan></text><text x="1594" y="1226"><tspan class="s">Mary</tspan>, dau. of Mr.<tspan x="1594" dy="15.25">Higgins, of Higgins-</tspan><tspan x="1594" dy="15.25">brook, co. Meath; m.</tspan><tspan x="1594" dy="15.25">in 1773.</tspan><tspan x="1594" dy="15.25">Priscilla Cecilia, dau.</tspan><tspan x="1594" dy="15.25">of Col. Armitage, of</tspan><tspan x="1594" dy="15.25">Ross, Hertfordshire.</tspan></text></g>
<g id="william-sandpits"><text x="1793" y="1226">1. <tspan class="bd">William</tspan>, of Sand-<tspan x="1793" dy="15.4">pits, Piltown; b. 20 Aug.</tspan><tspan x="1793" dy="15.4">1738; bapt. 5 Sept.</tspan><tspan x="1793" dy="15.4">1738.</tspan></text><text class="e" x="1998" y="1226">=</text><text x="2022" y="1226"><tspan class="s">Miss English</tspan>, dau. of<tspan x="2022" dy="15.4">the rector of Thomas-</tspan><tspan x="2022" dy="15.4">town, co. Kilkenny.</tspan></text></g>
<g id="bernard-1742"><text x="2323" y="1232">2. <tspan class="s">Bernard</tspan>, b. 20 Aug. 1742;<tspan x="2354" dy="15.2">d. y.</tspan><tspan x="2323" dy="15.2">6. </tspan><tspan class="s">George</tspan>, <tspan class="i">d. s. p.</tspan>; m. Anne,<tspan x="2354" dy="15.2">dau. of John Prim, of Johns-</tspan><tspan x="2354" dy="15.2">well, co. Kilkenny.</tspan></text></g>
<g id="rebecca-1737"><text x="2681" y="1232">7. <tspan class="s">Rebecca</tspan>, b. 1737; bapt.<tspan x="2714" dy="15.2">18 Apr. 1737; m. Aug. 31,</tspan><tspan x="2714" dy="15.2">1755.</tspan><tspan x="2681" dy="15.2">8. </tspan><tspan class="s">Elizabeth</tspan>, b. 1740; bapt.<tspan x="2714" dy="15.2">28 Jan. 1740; m. 1762.</tspan></text><text class="e" x="2944.6" y="1232">=<tspan x="2944.6" dy="45.6">=</tspan></text><text class="s" x="2970" y="1232">William Briscoe.<tspan x="2970" dy="45.6">Garrett Wall.</tspan></text></g>
<g id="thomas-clonmell"><text x="3343.7" y="1232">3. <tspan class="s">Thomas</tspan>, of Clonmell;<tspan x="3343.7" dy="15.3">b. 12 Nov. 1744; bapt.</tspan><tspan x="3343.7" dy="15.3">23 Nov. 1744; w. p.</tspan><tspan x="3343.7" dy="15.3">3 May, 1799.</tspan></text><text class="e" x="3540" y="1232">=</text><text class="s" x="3562.5" y="1232">Susanna</text></g>
<g id="john-capt"><text x="3742.8" y="1232">4. <tspan class="s">John</tspan>, Capt. R. N. C.;<tspan x="3742.8" dy="15">b. 6 May, 1746; bapt.</tspan><tspan x="3742.8" dy="15">11 March, 1748; grand-</tspan><tspan x="3742.8" dy="15">father of the Bakers,</tspan><tspan x="3742.8" dy="15">Shaws of the Scalp,</tspan><tspan x="3742.8" dy="15">and the Austin Shaws.</tspan></text><text class="e" x="3943" y="1232">=</text><text x="3966.5" y="1232"><tspan class="s">Mary Cormick</tspan><tspan x="3966.5" dy="15">(or </tspan><tspan class="s">MacCor-</tspan><tspan x="3966.5" dy="15" class="s">mock</tspan>), m. 1775.</text></g>

<g id="charles-anne"><text class="b" x="99.8" y="1377">1. <tspan class="s">Charles.</tspan><tspan x="99.8" dy="15.5">2. </tspan><tspan class="s">Anne.</tspan></text><text class="b" x="258" y="1362">(1)</text></g>
<g id="bernard-1775"><text class="b" x="220" y="1377">2. <tspan class="s">Bernard</tspan>, b.<tspan x="220" dy="15.5">1775; Collector</tspan><tspan x="220" dy="15.5">of Customs, Cork.</tspan></text><text class="e b" x="364" y="1377">=</text><text class="b" x="388.8" y="1377"><tspan class="s">Jane</tspan>, dau. of<tspan x="388.8" dy="15.5">Michael West-</tspan><tspan x="388.8" dy="15.5">ropp, Esq.</tspan></text></g>
<g id="bernard-sons"><text x="203" y="1533">1. <tspan class="s">Bernard</tspan></text><text x="306" y="1533">2. <tspan class="s">Robert.</tspan></text><text x="406" y="1533">3. <tspan class="s">George.</tspan></text></g>
<g id="sir-robert-1774"><text class="b" x="603" y="1364">(1)</text><text class="b" x="538.9" y="1379.5">1. <tspan class="s">Sir Robert</tspan>, of Bushy<tspan x="538.9" dy="15.2">Park; b. 29 Jan. 1774;</tspan><tspan x="538.9" dy="15.2">m. 7 Jan. 1796; created</tspan><tspan x="538.9" dy="15.2">Bart. in 1821; d. in</tspan><tspan x="538.9" dy="15.2">1849.</tspan></text><text class="e b" x="735" y="1379.5">=</text><text class="b" x="757" y="1379.5"><tspan class="s">Maria</tspan>, dau. and heir of<tspan x="757" dy="15.2">Abraham Wilkinson, Esq.,</tspan><tspan x="757" dy="15.2">of Dublin.</tspan></text></g>
<g id="robert-children"><text class="b" x="961.4" y="1381" style="font-size:13px">(1) 4. <tspan class="s">Captain Thomas</tspan>, in 25th Light Dragoons.<tspan x="961.4" dy="15.2">(1) 5. </tspan><tspan class="s">John</tspan> = <tspan class="s">Harriott</tspan>, dau. of Joseph Eade, Esq.<tspan x="961.4" dy="15.2">(1) 6. </tspan><tspan class="s">Mary</tspan> = <tspan class="s">John Cathcart</tspan>, son of Sir John Lees.<tspan x="961.4" dy="15.2">(1) 7. </tspan><tspan class="s">Charlotte</tspan> = <tspan class="s">Rt. Hon. Sir William McMahon</tspan>, Bart.<tspan x="961.4" dy="15.2">(2) 8. </tspan><tspan class="s">George</tspan> = <tspan class="s">Maria</tspan>, dau. of William Chipendale, Esq.<tspan x="961.4" dy="15.2">(2) 9. </tspan><tspan class="s">Lees</tspan> = <tspan class="s">Caroline</tspan>, dau. of William Chipendale, Esq.<tspan x="961.4" dy="15.2">(2) 10. </tspan><tspan class="s">Caroline</tspan> = <tspan class="s">Sir James Caleb Anderson</tspan>, Bart.<tspan x="961.4" dy="15.2">(2) 11. </tspan><tspan class="s">Sylvia</tspan> = <tspan class="s">Monsieur Viennot</tspan>, an officer in the French Army.</text></g>
<g id="ponsonby"><text x="1497" y="1364">(1)</text><text x="1481.6" y="1383">3. <tspan class="s">Ponsonby</tspan>; a<tspan x="1481.6" dy="15">banker in Dub-</tspan><tspan x="1481.6" dy="15">lin; b. 1784.</tspan></text><text class="e" x="1622.7" y="1383">=</text><text x="1646.8" y="1383"><tspan class="s">Alice</tspan>, dau. of<tspan x="1646.8" dy="15">Joseph Eade,</tspan><tspan x="1646.8" dy="15">Esq., of Stoke</tspan><tspan x="1646.8" dy="15">Newington.</tspan></text></g>
<g id="bernard-kilkenny"><text x="1794.7" y="1385">3. <tspan class="bd">Bernard</tspan>, of Kil-<tspan x="1794.7" dy="15.1">kenny; b. 1773; d. 3</tspan><tspan x="1794.7" dy="15.1">Feb. 1826; m. 1 Apr.</tspan><tspan x="1794.7" dy="15.1">1802, in the parish and</tspan><tspan x="1794.7" dy="15.1">church of New Ross, co.</tspan><tspan x="1794.7" dy="15.1">Wexford, by the Rev.</tspan><tspan x="1794.7" dy="15.1">George Carr, curate.</tspan></text><text class="e" x="1997" y="1385">=</text><text x="2022" y="1385"><tspan class="s">Frances Carr</tspan>, dau. of<tspan x="2022" dy="15.1">Rev. Edward Carr, rector</tspan><tspan x="2022" dy="15.1">of Kilmacow, near Water-</tspan><tspan x="2022" dy="15.1">ford. She d. 9 May,</tspan><tspan x="2022" dy="15.1">1871, aged 88.</tspan></text></g>
<g id="colonel-william"><text x="2261" y="1386.5">2. <tspan class="s">Colonel William</tspan>,<tspan x="2261" dy="15">E. I. Company S.; d.</tspan><tspan x="2261" dy="15">unm.</tspan></text></g>
<g id="jane-1769"><text x="2620.5" y="1387.7">4. <tspan class="s">Jane</tspan>; bapt. March,<tspan x="2652" dy="15">1769.</tspan><tspan x="2620.5" dy="15">5. Dau.</tspan><tspan x="2620.5" dy="15">6. Dau.</tspan></text></g>
<g id="rev-robert"><text x="2980.4" y="1387.7">1. <tspan class="s">Rev. Robert</tspan>, B.A.<tspan x="2980.4" dy="15.25">1792; M.A. 1832; rector</tspan><tspan x="2980.4" dy="15.25">of Dungarvan, 1795-</tspan><tspan x="2980.4" dy="15.25">1808; rector of Cast-</tspan><tspan x="2980.4" dy="15.25">lane, 1798-1801, and of</tspan><tspan x="2980.4" dy="15.25">St. John's, Kilkenny,</tspan><tspan x="2980.4" dy="15.25">1808-1833.</tspan></text><text class="e" x="3183.4" y="1387.7">=</text><text class="s" x="3207.5" y="1387.7">Deborah Waring.</text></g>
<g id="thomas-kilree"><text x="3471" y="1386.5">1. <tspan class="s">William.</tspan><tspan x="3471" dy="15.2">2. </tspan><tspan class="s">Thomas</tspan>, of Kilree, co. Kilkenny.<tspan x="3471" dy="15.2">3. </tspan><tspan class="s">Robert.</tspan><tspan x="3471" dy="15.2">4. </tspan><tspan class="s">Mary</tspan> = <tspan class="s">Thomas McCheane</tspan>,<tspan x="3504" dy="15.2">whose gr.-dau. Margaret, m.</tspan><tspan x="3504" dy="15.2">Brig.-Sur. Wright.</tspan><tspan x="3471" dy="15.2">5. </tspan><tspan class="s">Susanna.</tspan><tspan x="3471" dy="15.2">6. </tspan><tspan class="s">Rebecca.</tspan></text></g>
<g id="bernard-solicitor"><text x="3818.5" y="1385.6">1. <tspan class="s">Thomas</tspan>, <tspan class="i">d. s. p.</tspan><tspan x="3818.5" dy="15.4">2. </tspan><tspan class="s">Bernard</tspan>, a<tspan x="3849.5" dy="15">solicitor.</tspan></text><text class="e" x="3944" y="1401">=</text><text x="3968.5" y="1401"><tspan class="s">Catherine Clements</tspan>,<tspan x="3968.5" dy="15">dau. of Austin Cooper.</tspan></text></g>

<g id="sir-robert-1796"><text class="b" x="516" y="1534">1. <tspan class="s">Sir Robert</tspan>, of<tspan x="516" dy="15.2">Bushy Park, co.</tspan><tspan x="516" dy="15.2">Dublin; b. 28</tspan><tspan x="516" dy="15.2">Sept. 1796. Suc-</tspan><tspan x="516" dy="15.2">ceeded his father</tspan><tspan x="516" dy="15.2">as second Bart.</tspan><tspan x="516" dy="15.2">10 March, 1849.</tspan></text></g>
<g id="beresford"><text class="b" x="666" y="1534">3. <tspan class="s">Beresford.</tspan><tspan x="666" dy="15.2">4. </tspan><tspan class="s">George Augustus</tspan><tspan x="666" dy="15.2">5. </tspan><tspan class="s">Charles.</tspan></text></g>
<g id="sir-frederick"><text class="b" x="838" y="1534">2. <tspan class="s">Sir Frederick.</tspan></text></g>
<g id="edward-carr"><text x="1018.5" y="1536">7. <tspan class="s">Edward Carr</tspan>, b. 6<tspan x="1018.5" dy="15.2">May, 1813; m. in Hobart</tspan><tspan x="1018.5" dy="15.2">Town, Tasmania, 1835.</tspan><tspan x="1018.5" dy="15.2">He emigrated to Tas-</tspan><tspan x="1018.5" dy="15.2">mania.</tspan></text><text class="e" x="1220" y="1536">=</text><text x="1244" y="1536"><tspan class="s">Anne</tspan>, dau.<tspan x="1244" dy="15.2">of Michael</tspan><tspan x="1244" dy="15.2">Fenton.</tspan></text></g>
<g id="frances-greene"><text x="1361" y="1537">4. <tspan class="s">Frances</tspan>,<tspan x="1361" dy="15.5">b. 1807; m.</tspan><tspan x="1361" dy="15.5">1830.</tspan></text><text class="e" x="1472.6" y="1537">=</text><text class="s" x="1495.4" y="1537">Arthur<tspan x="1495.4" dy="15.5">Greene.</tspan></text></g>
<g id="sarah-anne"><text x="1584.8" y="1538">1. <tspan class="s">Sarah Anne</tspan>, b. 1803;<tspan x="1615.8" dy="15.2">d. 1818.</tspan><tspan x="1584.8" dy="15.2">2. </tspan><tspan class="s">Maria</tspan>, b. 1804; d.<tspan x="1615.8" dy="15.2">1813.</tspan><tspan x="1584.8" dy="15.2">3. </tspan><tspan class="s">Cecilia</tspan>, b. 1805.<tspan x="1584.8" dy="15.2">6. </tspan><tspan class="s">William Bernard</tspan>,<tspan x="1615.8" dy="15.2">b. 12 Jan. 1811;</tspan><tspan x="1615.8" dy="15.2" class="i">d. s. p.</tspan> 7 June, 1874;<tspan x="1615.8" dy="15.2">m. 30 Oct. 1866,</tspan><tspan x="1615.8" dy="15.2">Caroline, dau. of</tspan><tspan x="1615.8" dy="15.2">Charles Putland, of</tspan><tspan x="1615.8" dy="15.2">Bray Head, co. Wick-</tspan><tspan x="1615.8" dy="15.2">low.</tspan></text></g>
<g id="george-carr"><text x="1793.4" y="1539">8. <tspan class="bd">George Carr</tspan>, b. 30<tspan x="1793.4" dy="16">Dec. 1817.</tspan></text><text class="e" x="1997" y="1539">=</text><text x="2022" y="1539"><tspan class="s">Lucinda Elizabeth</tspan>,<tspan x="2022" dy="15.6">dau. of Walter Bage-</tspan><tspan x="2022" dy="15.6">nal Gurly, Esq. of Car-</tspan><tspan x="2022" dy="15.6">low (see </tspan><tspan class="s">Gurley</tspan> pedi-<tspan x="2022" dy="15.6">gree). She was m. 17</tspan><tspan x="2022" dy="15.6">June, 1852.</tspan></text></g>
<g id="robert-1816"><text x="2230" y="1542.4"><tspan x="2238">9. </tspan><tspan class="s">Robert</tspan>, b. 24 Apr. 1816; was blind; m. Mary,<tspan x="2276.4" dy="15.3">dau. of C. Macdermott.</tspan><tspan x="2230" dy="15.3">10. </tspan><tspan class="s">Richard Osborne</tspan>, b. and d. 1818.<tspan x="2230" dy="15.3">11. </tspan><tspan class="s">Henry</tspan>, b. 20 Apr. 1819; m. (1) 17 Jan.<tspan x="2276.4" dy="15.3">1844, Martha, dau. of Rev. James Cockaine;</tspan><tspan x="2276.4" dy="15.3">d. 24 March, 1881; m. (2) Eliza D., dau. of</tspan><tspan x="2276.4" dy="15.3">Robert MacMullen, of Cork.</tspan><tspan x="2230" dy="15.3">12. </tspan><tspan class="s">Emily</tspan>, b. 1821.<tspan x="2230" dy="15.3">13. </tspan><tspan class="s">Walter Stephen</tspan>, b. 15 Nov. 1822; res. in<tspan x="2276.4" dy="15.3">Melbourne; m. Anna Charlotte, dau. of</tspan><tspan x="2276.4" dy="15.3">William Hayes.</tspan><tspan x="2230" dy="15.3">14. </tspan><tspan class="s">Richard Frederick</tspan>, b. 24 Jan. 1824; m. 6<tspan x="2276.4" dy="15.3">Dec. 1855, Georgina Louisa, dau. of George</tspan><tspan x="2276.4" dy="15.3">Walters. Had 2 sons and 1 dau.</tspan></text></g>
<g id="charlotte-jane"><text x="2620.5" y="1541">5. <tspan class="s">Charlotte Jane</tspan>, b.<tspan x="2620.5" dy="15">1809; m. 1823, in</tspan><tspan x="2620.5" dy="15">Rathfornham.</tspan></text><text class="e" x="2820" y="1541">=</text><text class="s" x="2843" y="1541">Charles Bolton John-<tspan x="2843" dy="15">ston.</tspan></text></g>
<g id="katharine"><text x="3054" y="1544">1. <tspan class="s">Katharine</tspan><tspan x="3054" dy="29">2. </tspan><tspan class="s">Deborah</tspan></text><text class="e" x="3171.7" y="1544">=</text><text class="e" x="3156" y="1573">=</text><text x="3189" y="1544"><tspan class="s">Robert Briscoe</tspan>,<tspan x="3189" dy="14.5">of Fermony.</tspan></text><text class="s" x="3169.6" y="1573">Henry Briscoe.</text></g>
<g id="william-3"><text x="3443.5" y="1542">3. <tspan class="s">William.</tspan></text></g>
<g id="cooper-sons"><text x="3715.3" y="1540">1. <tspan class="s">John.</tspan><tspan x="3715.3" dy="16.5">2. </tspan><tspan class="s">Austin Cooper.</tspan></text><text x="3863" y="1540">3. <tspan class="s">Samuel</tspan><tspan x="3896" dy="16" class="s">Bernard.</tspan><tspan x="3863" dy="16">4. </tspan><tspan class="s">Ponsonby.</tspan></text><text x="3997.5" y="1540">5. <tspan class="s">Prosser.</tspan><tspan x="3997.5" dy="16.5">6. </tspan><tspan class="s">Walter.</tspan></text></g>

<g id="emily-carroll"><text class="b" x="777.7" y="1691.6">5. <tspan class="s">Emily.</tspan></text><text class="e b" x="920" y="1691.6">=</text><text class="b" x="942.8" y="1691.6"><tspan class="s">Rev. George</tspan><tspan x="942.8" dy="15.3" class="s">W. Carroll</tspan>,<tspan x="942.8" dy="15.3">her first cousin.</tspan></text></g>
<g id="carroll-children"><text class="b" x="834.8" y="1769">1. <tspan class="s">William</tspan>, d.<tspan x="834.8" dy="15.8">2. </tspan><tspan class="s">Emily</tspan>, now living.<tspan x="834.8" dy="15.8">3. </tspan><tspan class="s">Cecilia</tspan>, d.<tspan x="834.8" dy="15.8">4. </tspan><tspan class="s">Robert</tspan>, now living.<tspan x="834.8" dy="15.8">5. </tspan><tspan class="s">Fanny</tspan>, d.</text></g>
<g id="arms"><text class="b" x="204.4" y="1703"><tspan x="227" class="s">Arms of Sir Robert Shaw.</tspan><tspan x="204.4" dy="15.3">Or, on a chev. engrailed between</tspan><tspan x="204.4" dy="15.3">three eagles, displayed SA., as</tspan><tspan x="204.4" dy="15.3">many trefoils, slipped of the field.</tspan><tspan x="220" dy="15.3" class="s">Crest.</tspan>—A hind's head, couped<tspan x="204.4" dy="15.3">ar. the neck transpierced, by an</tspan><tspan x="204.4" dy="15.3">arrow, in bend, OR blighted AR.</tspan><tspan x="220" dy="15.3" class="s">Motto.</tspan>—Te ipsum nosce.</text></g>
<g id="carr-sons"><text x="1082.4" y="1690">1. <tspan class="s">Bernard</tspan>, b. 1836.<tspan x="1082.4" dy="15.2">2. </tspan><tspan class="s">James.</tspan><tspan x="1082.4" dy="15.2">3. </tspan><tspan class="s">Martha.</tspan><tspan x="1082.4" dy="15.2">4. </tspan><tspan class="s">Frederick.</tspan></text></g>
<g id="greene-children"><text x="1273.8" y="1692">1. <tspan class="s">Arthur Bernard</tspan><tspan x="1304.7" dy="15" class="s">Shaw</tspan>, b. 1831.<tspan x="1273.8" dy="15">2. </tspan><tspan class="s">Frances Sarah</tspan>, b.<tspan x="1304.7" dy="15">1831.</tspan><tspan x="1273.8" dy="15">3. </tspan><tspan class="s">Bessie.</tspan></text><text x="1463" y="1693">4. <tspan class="s">Cissie.</tspan><tspan x="1463" dy="15">5. </tspan><tspan class="s">Cecilia.</tspan><tspan x="1463" dy="15">6. </tspan><tspan class="s">Emily.</tspan></text></g>
<g id="elinor-agnes"><text x="1552.5" y="1787">2. <tspan class="s">Elinor Agnes</tspan>, d.<tspan x="1569" dy="15">1876 in Ventnor,</tspan><tspan x="1569" dy="15">I. of W.</tspan></text></g>
<g id="gbs"><text x="1883" y="1789">3. <tspan class="bd">George Bernard Shaw.</tspan></text><text x="1924" y="1804">Writer and Dramatist.</text></g>
<g id="lucinda-frances"><text x="2247.5" y="1790">1. <tspan class="s">Lucinda Frances</tspan>, m.<tspan x="2278.4" dy="14.5">Charles Butterfield.</tspan></text></g>
<g id="johnston-children"><text x="2844.8" y="1790">1. <tspan class="s">Frances Sarah</tspan>, b. 1830; m. Cashel Hoey.<tspan x="2844.8" dy="15.5">2. </tspan><tspan class="s">Agnes Maria</tspan>, b. 1831.<tspan x="2844.8" dy="15.5">3. </tspan><tspan class="s">Charles Edward</tspan>, b. 1832.</text><text x="3311" y="1789">4. <tspan class="s">George</tspan>, d. in India.<tspan x="3311" dy="15.3">5. </tspan><tspan class="s">Florence.</tspan><tspan x="3311" dy="15.3">6. </tspan><tspan class="s">Madelaine.</tspan><tspan x="3311" dy="15.3">7. </tspan><tspan class="s">Dalkeith.</tspan></text></g>

<g id="john-briscoe"><text x="2906.8" y="116"><tspan class="s">John Briscoe</tspan>, of Crofton Hall,<tspan x="2906.8" dy="15.3">Cumberland, descended lineally</tspan><tspan x="2906.8" dy="15.3">from Isold Brisco, who m.</tspan><tspan x="2906.8" dy="15.3">Margaret, dau. and heir of Sir</tspan><tspan x="2906.8" dy="15.3">John Crofton, in the 14th</tspan><tspan x="2906.8" dy="15.3">century.</tspan></text><text class="e" x="3169" y="116">=</text><text x="3193.7" y="116"><tspan class="s">Mary</tspan>, dau. of Thomas Braith-<tspan x="3193.7" dy="15.3">waite.</tspan></text></g>
<g id="edward-london"><text x="2474.6" y="570">3. <tspan class="s">Edward</tspan>, of<tspan x="2505.5" dy="15.2">London, </tspan><tspan class="i">s.p.</tspan><tspan x="2474.6" dy="15.2">4. </tspan><tspan class="s">Christopher</tspan>,<tspan x="2505.5" dy="15.2">d. in Ireland,</tspan><tspan x="2505.5" dy="15.2" class="i">s.p.</tspan></text><text class="e" x="2615.6" y="570">=</text><text x="2637.7" y="570">— <tspan class="s">Tolson.</tspan></text></g>
<g id="william-susanna"><text x="2763.6" y="570">1. <tspan class="s">William</tspan></text><text class="e" x="2873.7" y="570">=</text><text x="2894.4" y="570"><tspan class="s">Susanna</tspan>, dau. of<tspan x="2894.4" dy="16">Francis Brown.</tspan></text></g>
<g id="francis"><text x="3044" y="572">2. <tspan class="s">Francis</tspan>, a<tspan x="3073" dy="16">capt.; d.</tspan><tspan x="3073" dy="15">unm.</tspan><tspan x="3044" dy="15">6. </tspan><tspan class="s">Nazareth.</tspan></text></g>
<g id="dorothy"><text x="3193.7" y="572">7. <tspan class="s">Dorothy</tspan><tspan x="3193.7" dy="31">8. </tspan><tspan class="s">Grace</tspan><tspan x="3193.7" dy="31">9. </tspan><tspan class="s">Mary</tspan><tspan x="3187" dy="30">10. </tspan><tspan class="s">Anne</tspan></text><text class="e" x="3300" y="572">=<tspan x="3302" dy="31">=</tspan><tspan x="3302" dy="31">=</tspan><tspan x="3300" dy="30">=</tspan></text><text class="s" x="3314" y="572">Sir John Pon-<tspan x="3347" dy="15.6">sonby.</tspan><tspan x="3314" dy="15.4">Clement Skel-</tspan><tspan x="3333" dy="15.5">ton.</tspan><tspan x="3314" dy="15.5">Rev. Joseph</tspan><tspan x="3330" dy="14.5">Nicholson.</tspan></text></g>
<g id="john-briscoe-2"><text x="3466" y="573.6">2. <tspan class="s">John Briscoe</tspan>,<tspan x="3481" dy="15">of Wampool,</tspan><tspan x="3481" dy="15">parish of Alk-</tspan><tspan x="3481" dy="15">ton, Cumb.</tspan></text><text class="e" x="3601.7" y="573.6">=</text><text x="3622.4" y="573.6">2. <tspan class="s">Judith</tspan>, 3rd wife.</text></g>
<g id="thomas-hesket-hall"><text x="3787.5" y="573.6">1. <tspan class="s">Thomas</tspan>, of Hesket Hall; d.<tspan x="3818.5" dy="15.1">before June, 1632, </tspan><tspan class="i">s.p.</tspan><tspan x="3787.5" dy="15.1">3. </tspan><tspan class="s">Jane</tspan> = <tspan class="s">Richard Garth</tspan>, of<tspan x="3818.5" dy="15.1">Cumb.</tspan><tspan x="3787.5" dy="15.1">4. </tspan><tspan class="s">Anne</tspan> = <tspan class="s">Clement Brown</tspan>, of<tspan x="3818.5" dy="15.1">Halse, Cumb.</tspan><tspan x="3787.5" dy="15.1">5. </tspan><tspan class="s">Eleanor</tspan>, m. as 3rd wife,<tspan x="3818.5" dy="15.1" class="s">Christopher Richmond</tspan>, of<tspan x="3818.5" dy="15.1">Head Castle, Cumb.</tspan></text></g>
<g id="edward-attainted"><text x="3469" y="666"><tspan class="s">Edward</tspan>; attain-<tspan x="3469" dy="15.3">ted as "of James-</tspan><tspan x="3469" dy="15.3">town," 1689;</tspan><tspan x="3469" dy="15.3">gr. admon. of</tspan><tspan x="3469" dy="15.3">Tim Kelly, 1709.</tspan></text><text class="e" x="3601.7" y="666">=</text><text class="s" x="3626" y="666">Rebecca.</text><text x="3457" y="760">2.</text></g>
<g id="rebecca-markham"><text x="3522.6" y="776">3. <tspan class="s">Rebecca</tspan></text><text class="e" x="3626" y="776">=</text><text x="3650" y="776"><tspan class="s">Bernard Mark-</tspan><tspan x="3650" dy="16" class="s">ham</tspan>, 1700.</text><text x="3560.5" y="808">(See <tspan class="s">Markham</tspan> pedigree.)</text></g>
<g id="john-garnyrerchy"><text x="3813.7" y="776">4. <tspan class="s">John</tspan>, of Gar-<tspan x="3848" dy="16">nyrerchy.</tspan></text><text class="e" x="3958" y="776">=</text></g>

<g id="richard-bewley"><text x="3677.5" y="123"><tspan class="s">Richard Bewley</tspan> (or<tspan x="3677.5" dy="15" class="s">Beauleu</tspan>), of Hes-<tspan x="3677.5" dy="15">kett Hall, Cumber-</tspan><tspan x="3677.5" dy="15">land, named in Book</tspan><tspan x="3677.5" dy="15">of Knts. Fees, in</tspan><tspan x="3677.5" dy="15">1542; d. circa 1552.</tspan></text><text class="e" x="3844" y="123">=</text></g>
<g id="thomas-hesket"><text x="3560.5" y="244"><tspan class="s">Thomas</tspan>, of Hesket,<tspan x="3560.5" dy="15.2">etc.; named in Sur-</tspan><tspan x="3560.5" dy="15.2">vey of Wharton</tspan><tspan x="3560.5" dy="15.2">Manor in Jan. 1566.</tspan><tspan x="3560.5" dy="15.2">Sold part of Brayton</tspan><tspan x="3560.5" dy="15.2">in 1572.</tspan></text><text class="e" x="3725.6" y="244">=</text><text class="s" x="3747.6" y="244">Marion</text></g>
<g id="matthew"><text class="s" x="3915" y="246">Matthew</text><text class="e" x="4010" y="246">=</text><text x="3882.5" y="261">of Woodhall,<tspan x="3882.5" dy="14.8">parish of Cold-</tspan><tspan x="3882.5" dy="14.8">beck, Cumb.</tspan></text></g>
<g id="ancestor-bewleys"><text x="4033" y="338">Ancestor of the<tspan x="4033" dy="15.5">Bewleys of Halt-</tspan><tspan x="4033" dy="15.5">cliffe Hall, and</tspan><tspan x="4033" dy="15.5">the Irish Bewley</tspan><tspan x="4033" dy="15.5">"Quakers."</tspan></text></g>
<g id="william-hesket"><text x="3560.5" y="369"><tspan class="s">William</tspan>, of Hesket<tspan x="3560.5" dy="15">Hall, etc.; named as</tspan><tspan x="3560.5" dy="15">son and heir, in</tspan><tspan x="3560.5" dy="15">1572; d. 1589.</tspan></text><text class="e" x="3725.6" y="369">=</text><text class="s" x="3747.6" y="369">Joan</text></g>
<g id="richard-1573"><text x="3490" y="463"><tspan class="s">Richard</tspan>, b. Nov.<tspan x="3490" dy="15">1573; named in sub-</tspan><tspan x="3490" dy="15" style="font-size:12.5px">sidy rolls, 1624, 1626,</tspan><tspan x="3490" dy="15">1628; d. 1629.</tspan></text><text class="e" x="3651" y="463">=</text><text class="s" x="3674" y="463">Frances</text></g>
<g id="judith-lawson"><text x="3804.8" y="464"><tspan class="s">Judith</tspan>, m. William<tspan x="3804.8" dy="15.3">Lawson, and was</tspan><tspan x="3804.8" dy="15.3">mother of Sir Wil-</tspan><tspan x="3804.8" dy="15.3">fred Lawson; created</tspan><tspan x="3804.8" dy="15.3">a Bart. 1688.</tspan></text></g>
<g id="john-bewley"><text class="s" x="3977" y="464">John</text><text class="e" x="4037" y="464">=</text><text class="s" x="4059.4" y="560">Judith</text></g>
</g>
</svg>
